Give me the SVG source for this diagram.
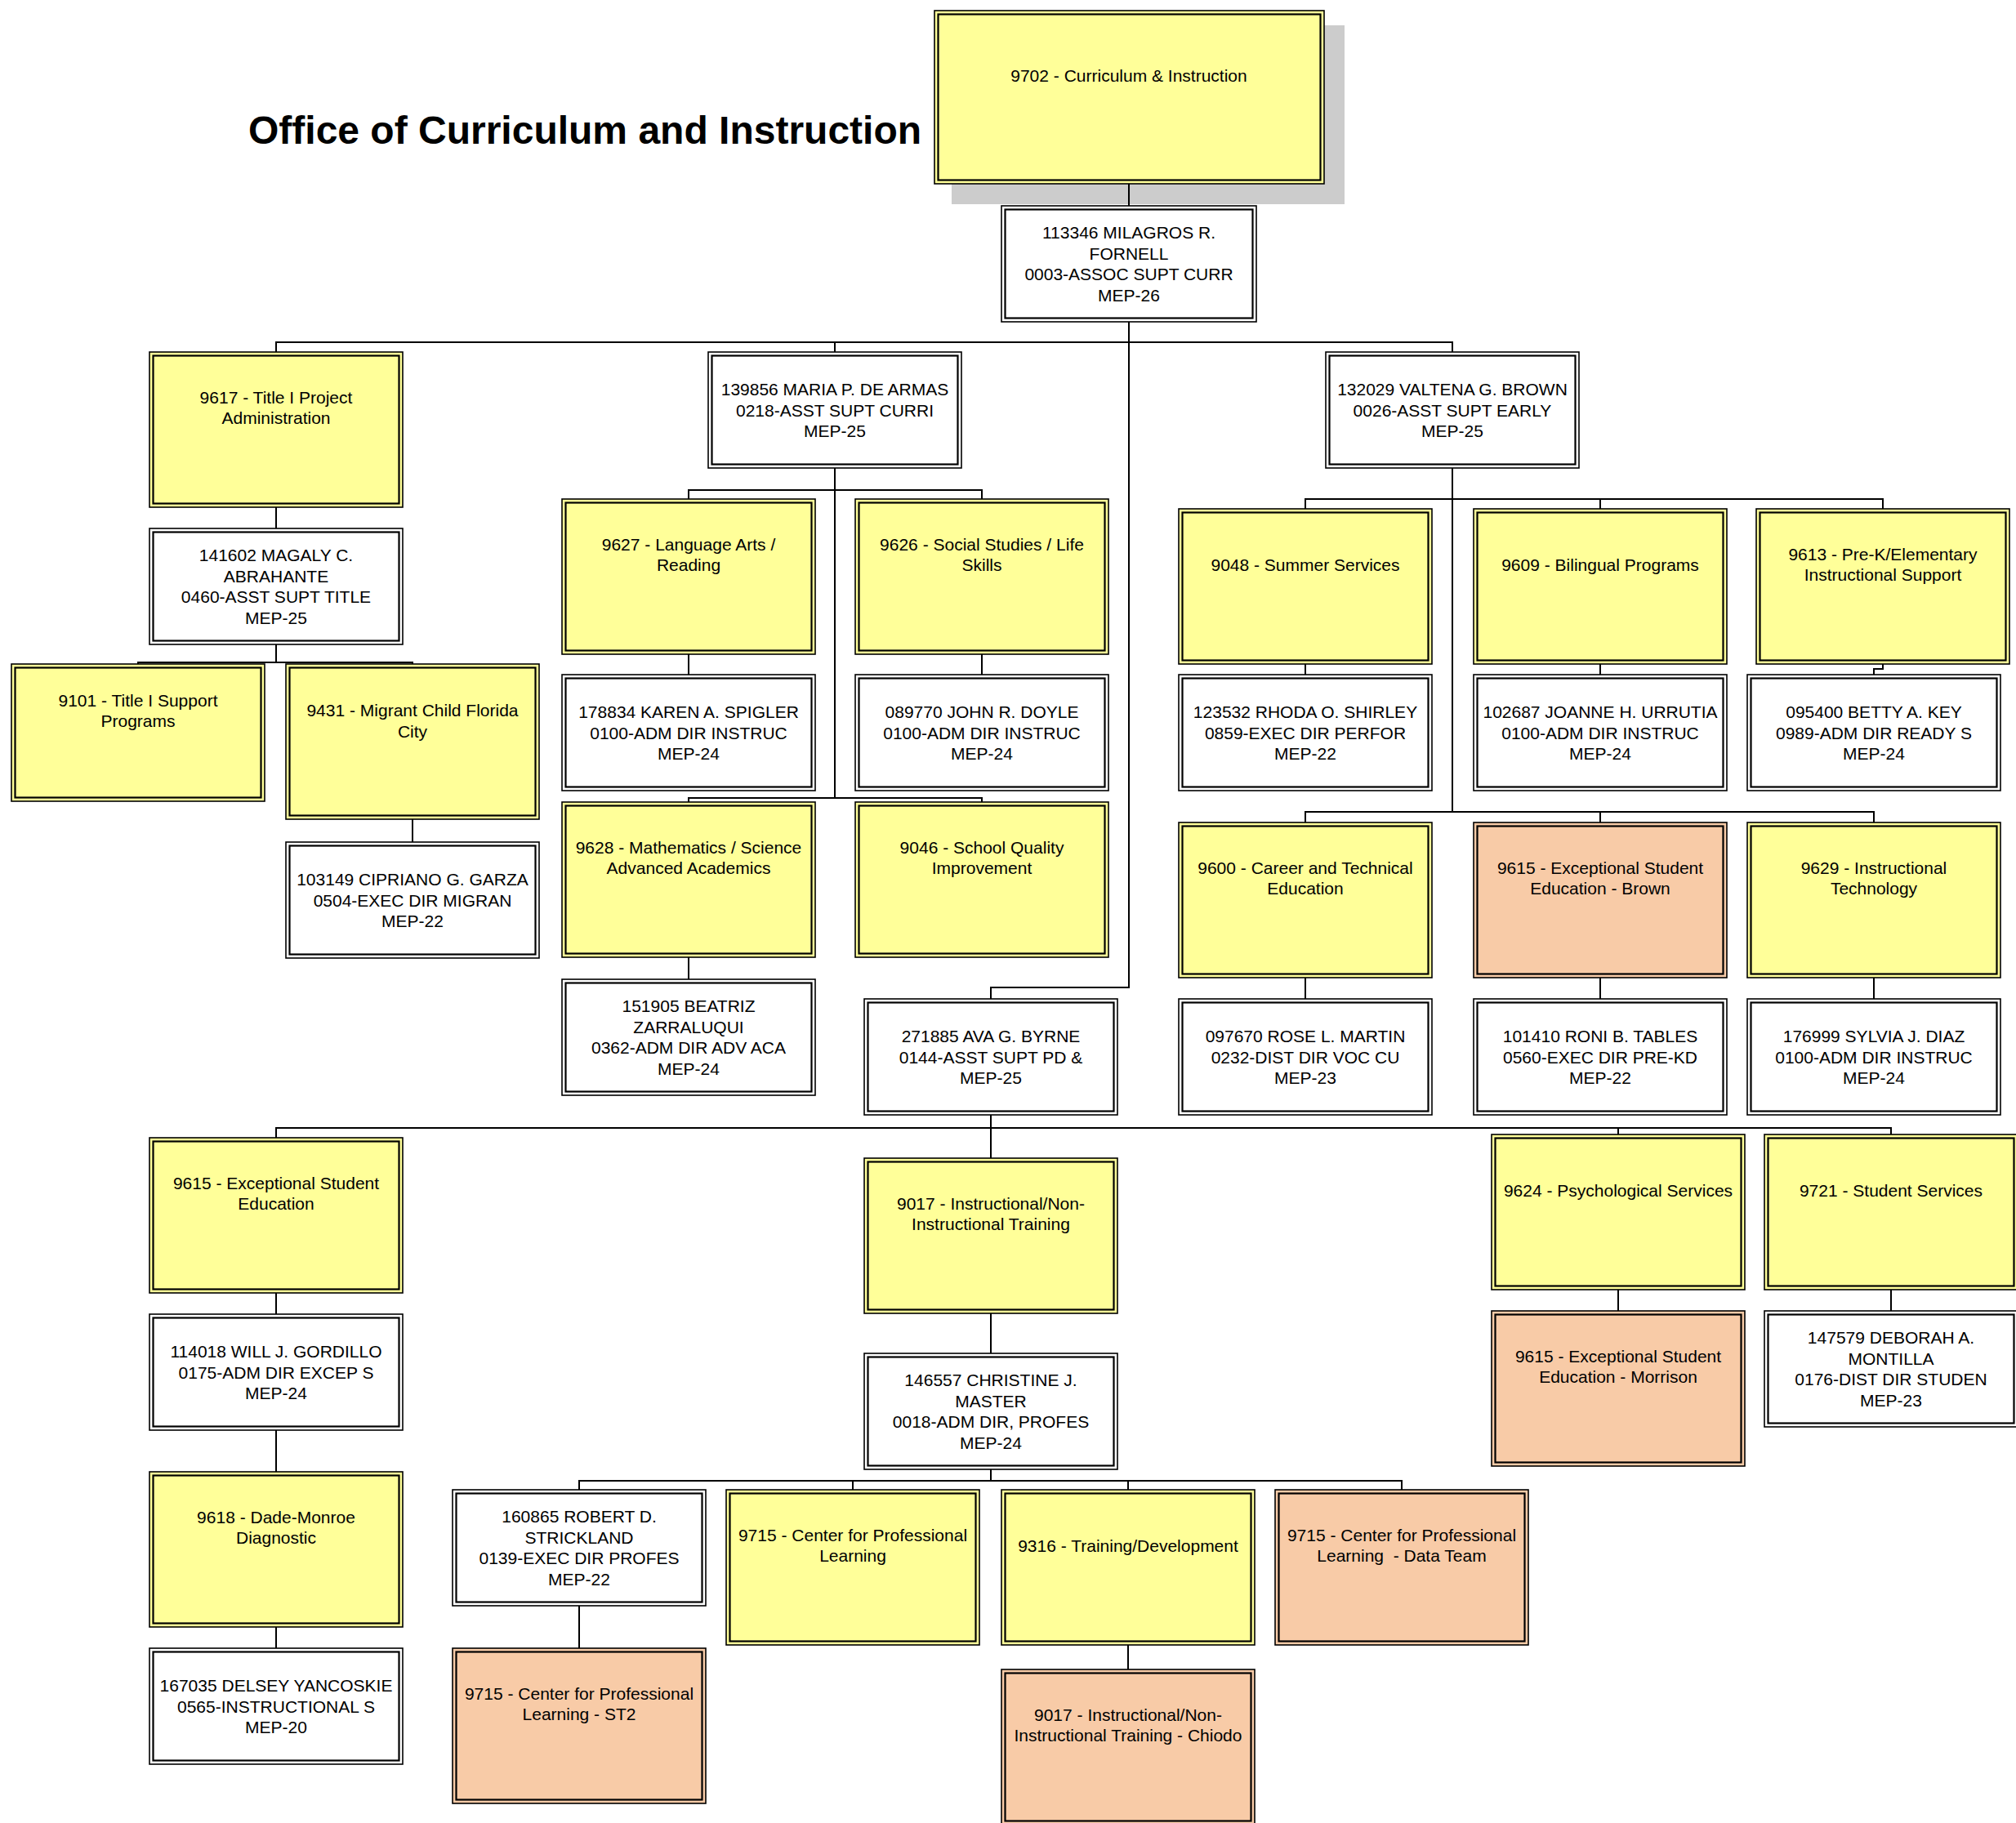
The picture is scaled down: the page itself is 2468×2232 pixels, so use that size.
<svg xmlns="http://www.w3.org/2000/svg" width="2468" height="2232" viewBox="0 0 2468 2232">
<style>
rect.o{stroke:#000;stroke-width:1.6}
rect.i{fill:none;stroke:#000;stroke-width:2.2}
.y rect.o{fill:#FFFF99}
.p rect.o{fill:#F8CBA7}
.w rect.o{fill:#FFFFFF}
text{font-family:"Liberation Sans",Arial,sans-serif;font-size:21px;text-anchor:middle;fill:#000}
text.title{font-size:48px;font-weight:bold;text-anchor:start}
.conn path{fill:none;stroke:#000;stroke-width:2}
</style>
<rect width="2468" height="2232" fill="#FFFFFF"/>
<text class="title" x="304" y="176">Office of Curriculum and Instruction</text>
<g id="n9702" class="y">
<rect x="1165" y="31" width="481" height="219" fill="#CCCCCC"/>
<rect class="o" x="1144" y="13" width="477" height="212"/><rect class="i" x="1148.5" y="17.5" width="468" height="203"/>
<text x="1382" y="100">9702 - Curriculum &amp; Instruction</text>
</g>
<g class="conn" id="connectors">
<path d="M1382 225V252"/>
<path d="M1382 394V1209H1213V1223"/>
<path d="M338 431V419H1778V431M1022 419V431"/>
<path d="M338 621V647"/>
<path d="M338 789V811M169 813V811H505V813"/>
<path d="M505 1003V1031"/>
<path d="M1022 573V977M843 611V600H1202V611M843 982V977H1202V982"/>
<path d="M843 801V826M1202 801V826"/>
<path d="M843 1172V1199"/>
<path d="M1778 573V994M1598 623V611H2305V623M1959 611V623"/>
<path d="M1598 813V826M1959 813V826M2305 813V819H2294V826"/>
<path d="M1598 1007V994H2294V1007M1959 994V1007"/>
<path d="M1598 1197V1223M1959 1197V1223M2294 1197V1223"/>
<path d="M1213 1365V1418M338 1393V1381H2315V1389M1981 1381V1389"/>
<path d="M338 1583V1609M338 1751V1802M338 1992V2018"/>
<path d="M1213 1608V1657"/>
<path d="M1213 1799V1813M709 1824V1813H1716V1824M1044 1813V1824M1381 1813V1824"/>
<path d="M709 1966V2018"/>
<path d="M1381 2014V2044"/>
<path d="M1981 1579V1605M2315 1579V1605"/>
</g>
<g id="p113346" class="w">
<rect class="o" x="1226" y="252" width="312" height="142"/><rect class="i" x="1230.5" y="256.5" width="303" height="133"/>
<text x="1382"><tspan x="1382" y="292">113346 MILAGROS R.</tspan><tspan x="1382" y="317.5">FORNELL</tspan><tspan x="1382" y="343">0003-ASSOC SUPT CURR</tspan><tspan x="1382" y="368.5">MEP-26</tspan></text>
</g>
<g id="n9617" class="y">
<rect class="o" x="183" y="431" width="310" height="190"/><rect class="i" x="187.5" y="435.5" width="301" height="181"/>
<text><tspan x="338" y="493.5">9617 - Title I Project</tspan><tspan x="338" y="519">Administration</tspan></text>
</g>
<g id="p141602" class="w">
<rect class="o" x="183" y="647" width="310" height="142"/><rect class="i" x="187.5" y="651.5" width="301" height="133"/>
<text><tspan x="338" y="687">141602 MAGALY C.</tspan><tspan x="338" y="712.5">ABRAHANTE</tspan><tspan x="338" y="738">0460-ASST SUPT TITLE</tspan><tspan x="338" y="763.5">MEP-25</tspan></text>
</g>
<g id="n9101" class="y">
<rect class="o" x="14" y="813" width="310" height="168"/><rect class="i" x="18.5" y="817.5" width="301" height="159"/>
<text><tspan x="169" y="864.5">9101 - Title I Support</tspan><tspan x="169" y="890">Programs</tspan></text>
</g>
<g id="n9431" class="y">
<rect class="o" x="350" y="813" width="310" height="190"/><rect class="i" x="354.5" y="817.5" width="301" height="181"/>
<text><tspan x="505" y="877">9431 - Migrant Child Florida</tspan><tspan x="505" y="902.5">City</tspan></text>
</g>
<g id="p103149" class="w">
<rect class="o" x="350" y="1031" width="310" height="142"/><rect class="i" x="354.5" y="1035.5" width="301" height="133"/>
<text><tspan x="505" y="1084">103149 CIPRIANO G. GARZA</tspan><tspan x="505" y="1109.5">0504-EXEC DIR MIGRAN</tspan><tspan x="505" y="1135">MEP-22</tspan></text>
</g>
<g id="p139856" class="w">
<rect class="o" x="867" y="431" width="310" height="142"/><rect class="i" x="871.5" y="435.5" width="301" height="133"/>
<text><tspan x="1022" y="484">139856 MARIA P. DE ARMAS</tspan><tspan x="1022" y="509.5">0218-ASST SUPT CURRI</tspan><tspan x="1022" y="535">MEP-25</tspan></text>
</g>
<g id="n9627" class="y">
<rect class="o" x="688" y="611" width="310" height="190"/><rect class="i" x="692.5" y="615.5" width="301" height="181"/>
<text><tspan x="843" y="673.5">9627 - Language Arts /</tspan><tspan x="843" y="699">Reading</tspan></text>
</g>
<g id="n9626" class="y">
<rect class="o" x="1047" y="611" width="310" height="190"/><rect class="i" x="1051.5" y="615.5" width="301" height="181"/>
<text><tspan x="1202" y="673.5">9626 - Social Studies / Life</tspan><tspan x="1202" y="699">Skills</tspan></text>
</g>
<g id="p178834" class="w">
<rect class="o" x="688" y="826" width="310" height="142"/><rect class="i" x="692.5" y="830.5" width="301" height="133"/>
<text><tspan x="843" y="879">178834 KAREN A. SPIGLER</tspan><tspan x="843" y="904.5">0100-ADM DIR INSTRUC</tspan><tspan x="843" y="930">MEP-24</tspan></text>
</g>
<g id="p089770" class="w">
<rect class="o" x="1047" y="826" width="310" height="142"/><rect class="i" x="1051.5" y="830.5" width="301" height="133"/>
<text><tspan x="1202" y="879">089770 JOHN R. DOYLE</tspan><tspan x="1202" y="904.5">0100-ADM DIR INSTRUC</tspan><tspan x="1202" y="930">MEP-24</tspan></text>
</g>
<g id="n9628" class="y">
<rect class="o" x="688" y="982" width="310" height="190"/><rect class="i" x="692.5" y="986.5" width="301" height="181"/>
<text><tspan x="843" y="1044.5">9628 - Mathematics / Science</tspan><tspan x="843" y="1070">Advanced Academics</tspan></text>
</g>
<g id="n9046" class="y">
<rect class="o" x="1047" y="982" width="310" height="190"/><rect class="i" x="1051.5" y="986.5" width="301" height="181"/>
<text><tspan x="1202" y="1044.5">9046 - School Quality</tspan><tspan x="1202" y="1070">Improvement</tspan></text>
</g>
<g id="p151905" class="w">
<rect class="o" x="688" y="1199" width="310" height="142"/><rect class="i" x="692.5" y="1203.5" width="301" height="133"/>
<text><tspan x="843" y="1239">151905 BEATRIZ</tspan><tspan x="843" y="1264.5">ZARRALUQUI</tspan><tspan x="843" y="1290">0362-ADM DIR ADV ACA</tspan><tspan x="843" y="1315.5">MEP-24</tspan></text>
</g>
<g id="p132029" class="w">
<rect class="o" x="1623" y="431" width="310" height="142"/><rect class="i" x="1627.5" y="435.5" width="301" height="133"/>
<text><tspan x="1778" y="484">132029 VALTENA G. BROWN</tspan><tspan x="1778" y="509.5">0026-ASST SUPT EARLY</tspan><tspan x="1778" y="535">MEP-25</tspan></text>
</g>
<g id="n9048" class="y">
<rect class="o" x="1443" y="623" width="310" height="190"/><rect class="i" x="1447.5" y="627.5" width="301" height="181"/>
<text x="1598" y="698.5">9048 - Summer Services</text>
</g>
<g id="n9609" class="y">
<rect class="o" x="1804" y="623" width="310" height="190"/><rect class="i" x="1808.5" y="627.5" width="301" height="181"/>
<text x="1959" y="698.5">9609 - Bilingual Programs</text>
</g>
<g id="n9613" class="y">
<rect class="o" x="2150" y="623" width="310" height="190"/><rect class="i" x="2154.5" y="627.5" width="301" height="181"/>
<text><tspan x="2305" y="685.5">9613 - Pre-K/Elementary</tspan><tspan x="2305" y="711">Instructional Support</tspan></text>
</g>
<g id="p123532" class="w">
<rect class="o" x="1443" y="826" width="310" height="142"/><rect class="i" x="1447.5" y="830.5" width="301" height="133"/>
<text><tspan x="1598" y="879">123532 RHODA O. SHIRLEY</tspan><tspan x="1598" y="904.5">0859-EXEC DIR PERFOR</tspan><tspan x="1598" y="930">MEP-22</tspan></text>
</g>
<g id="p102687" class="w">
<rect class="o" x="1804" y="826" width="310" height="142"/><rect class="i" x="1808.5" y="830.5" width="301" height="133"/>
<text><tspan x="1959" y="879">102687 JOANNE H. URRUTIA</tspan><tspan x="1959" y="904.5">0100-ADM DIR INSTRUC</tspan><tspan x="1959" y="930">MEP-24</tspan></text>
</g>
<g id="p095400" class="w">
<rect class="o" x="2139" y="826" width="310" height="142"/><rect class="i" x="2143.5" y="830.5" width="301" height="133"/>
<text><tspan x="2294" y="879">095400 BETTY A. KEY</tspan><tspan x="2294" y="904.5">0989-ADM DIR READY S</tspan><tspan x="2294" y="930">MEP-24</tspan></text>
</g>
<g id="n9600" class="y">
<rect class="o" x="1443" y="1007" width="310" height="190"/><rect class="i" x="1447.5" y="1011.5" width="301" height="181"/>
<text><tspan x="1598" y="1069.5">9600 - Career and Technical</tspan><tspan x="1598" y="1095">Education</tspan></text>
</g>
<g id="n9615b" class="p">
<rect class="o" x="1804" y="1007" width="310" height="190"/><rect class="i" x="1808.5" y="1011.5" width="301" height="181"/>
<text><tspan x="1959" y="1069.5">9615 - Exceptional Student</tspan><tspan x="1959" y="1095">Education - Brown</tspan></text>
</g>
<g id="n9629" class="y">
<rect class="o" x="2139" y="1007" width="310" height="190"/><rect class="i" x="2143.5" y="1011.5" width="301" height="181"/>
<text><tspan x="2294" y="1069.5">9629 - Instructional</tspan><tspan x="2294" y="1095">Technology</tspan></text>
</g>
<g id="p097670" class="w">
<rect class="o" x="1443" y="1223" width="310" height="142"/><rect class="i" x="1447.5" y="1227.5" width="301" height="133"/>
<text><tspan x="1598" y="1276">097670 ROSE L. MARTIN</tspan><tspan x="1598" y="1301.5">0232-DIST DIR VOC CU</tspan><tspan x="1598" y="1327">MEP-23</tspan></text>
</g>
<g id="p101410" class="w">
<rect class="o" x="1804" y="1223" width="310" height="142"/><rect class="i" x="1808.5" y="1227.5" width="301" height="133"/>
<text><tspan x="1959" y="1276">101410 RONI B. TABLES</tspan><tspan x="1959" y="1301.5">0560-EXEC DIR PRE-KD</tspan><tspan x="1959" y="1327">MEP-22</tspan></text>
</g>
<g id="p176999" class="w">
<rect class="o" x="2139" y="1223" width="310" height="142"/><rect class="i" x="2143.5" y="1227.5" width="301" height="133"/>
<text><tspan x="2294" y="1276">176999 SYLVIA J. DIAZ</tspan><tspan x="2294" y="1301.5">0100-ADM DIR INSTRUC</tspan><tspan x="2294" y="1327">MEP-24</tspan></text>
</g>
<g id="p271885" class="w">
<rect class="o" x="1058" y="1223" width="310" height="142"/><rect class="i" x="1062.5" y="1227.5" width="301" height="133"/>
<text><tspan x="1213" y="1276">271885 AVA G. BYRNE</tspan><tspan x="1213" y="1301.5">0144-ASST SUPT PD &amp;</tspan><tspan x="1213" y="1327">MEP-25</tspan></text>
</g>
<g id="n9615" class="y">
<rect class="o" x="183" y="1393" width="310" height="190"/><rect class="i" x="187.5" y="1397.5" width="301" height="181"/>
<text><tspan x="338" y="1455.5">9615 - Exceptional Student</tspan><tspan x="338" y="1481">Education</tspan></text>
</g>
<g id="p114018" class="w">
<rect class="o" x="183" y="1609" width="310" height="142"/><rect class="i" x="187.5" y="1613.5" width="301" height="133"/>
<text><tspan x="338" y="1662">114018 WILL J. GORDILLO</tspan><tspan x="338" y="1687.5">0175-ADM DIR EXCEP S</tspan><tspan x="338" y="1713">MEP-24</tspan></text>
</g>
<g id="n9618" class="y">
<rect class="o" x="183" y="1802" width="310" height="190"/><rect class="i" x="187.5" y="1806.5" width="301" height="181"/>
<text><tspan x="338" y="1864.5">9618 - Dade-Monroe</tspan><tspan x="338" y="1890">Diagnostic</tspan></text>
</g>
<g id="p167035" class="w">
<rect class="o" x="183" y="2018" width="310" height="142"/><rect class="i" x="187.5" y="2022.5" width="301" height="133"/>
<text><tspan x="338" y="2071">167035 DELSEY YANCOSKIE</tspan><tspan x="338" y="2096.5">0565-INSTRUCTIONAL S</tspan><tspan x="338" y="2122">MEP-20</tspan></text>
</g>
<g id="n9017" class="y">
<rect class="o" x="1058" y="1418" width="310" height="190"/><rect class="i" x="1062.5" y="1422.5" width="301" height="181"/>
<text><tspan x="1213" y="1480.5">9017 - Instructional/Non-</tspan><tspan x="1213" y="1506">Instructional Training</tspan></text>
</g>
<g id="p146557" class="w">
<rect class="o" x="1058" y="1657" width="310" height="142"/><rect class="i" x="1062.5" y="1661.5" width="301" height="133"/>
<text><tspan x="1213" y="1697">146557 CHRISTINE J.</tspan><tspan x="1213" y="1722.5">MASTER</tspan><tspan x="1213" y="1748">0018-ADM DIR, PROFES</tspan><tspan x="1213" y="1773.5">MEP-24</tspan></text>
</g>
<g id="p160865" class="w">
<rect class="o" x="554" y="1824" width="310" height="142"/><rect class="i" x="558.5" y="1828.5" width="301" height="133"/>
<text><tspan x="709" y="1864">160865 ROBERT D.</tspan><tspan x="709" y="1889.5">STRICKLAND</tspan><tspan x="709" y="1915">0139-EXEC DIR PROFES</tspan><tspan x="709" y="1940.5">MEP-22</tspan></text>
</g>
<g id="n9715st2" class="p">
<rect class="o" x="554" y="2018" width="310" height="190"/><rect class="i" x="558.5" y="2022.5" width="301" height="181"/>
<text><tspan x="709" y="2080.5">9715 - Center for Professional</tspan><tspan x="709" y="2106">Learning - ST2</tspan></text>
</g>
<g id="n9715a" class="y">
<rect class="o" x="889" y="1824" width="310" height="190"/><rect class="i" x="893.5" y="1828.5" width="301" height="181"/>
<text><tspan x="1044" y="1886.5">9715 - Center for Professional</tspan><tspan x="1044" y="1912">Learning</tspan></text>
</g>
<g id="n9316" class="y">
<rect class="o" x="1226" y="1824" width="310" height="190"/><rect class="i" x="1230.5" y="1828.5" width="301" height="181"/>
<text x="1381" y="1899.5">9316 - Training/Development</text>
</g>
<g id="n9017c" class="p">
<rect class="o" x="1226" y="2044" width="310" height="190"/><rect class="i" x="1230.5" y="2048.5" width="301" height="181"/>
<text><tspan x="1381" y="2106.5">9017 - Instructional/Non-</tspan><tspan x="1381" y="2132">Instructional Training - Chiodo</tspan></text>
</g>
<g id="n9715dt" class="p">
<rect class="o" x="1561" y="1824" width="310" height="190"/><rect class="i" x="1565.5" y="1828.5" width="301" height="181"/>
<text><tspan x="1716" y="1886.5">9715 - Center for Professional</tspan><tspan x="1716" y="1912" xml:space="preserve">Learning  - Data Team</tspan></text>
</g>
<g id="n9624" class="y">
<rect class="o" x="1826" y="1389" width="310" height="190"/><rect class="i" x="1830.5" y="1393.5" width="301" height="181"/>
<text x="1981" y="1464.5">9624 - Psychological Services</text>
</g>
<g id="n9615m" class="p">
<rect class="o" x="1826" y="1605" width="310" height="190"/><rect class="i" x="1830.5" y="1609.5" width="301" height="181"/>
<text><tspan x="1981" y="1667.5">9615 - Exceptional Student</tspan><tspan x="1981" y="1693">Education - Morrison</tspan></text>
</g>
<g id="n9721" class="y">
<rect class="o" x="2160" y="1389" width="310" height="190"/><rect class="i" x="2164.5" y="1393.5" width="301" height="181"/>
<text x="2315" y="1464.5">9721 - Student Services</text>
</g>
<g id="p147579" class="w">
<rect class="o" x="2160" y="1605" width="310" height="142"/><rect class="i" x="2164.5" y="1609.5" width="301" height="133"/>
<text><tspan x="2315" y="1645">147579 DEBORAH A.</tspan><tspan x="2315" y="1670.5">MONTILLA</tspan><tspan x="2315" y="1696">0176-DIST DIR STUDEN</tspan><tspan x="2315" y="1721.5">MEP-23</tspan></text>
</g>
</svg>
